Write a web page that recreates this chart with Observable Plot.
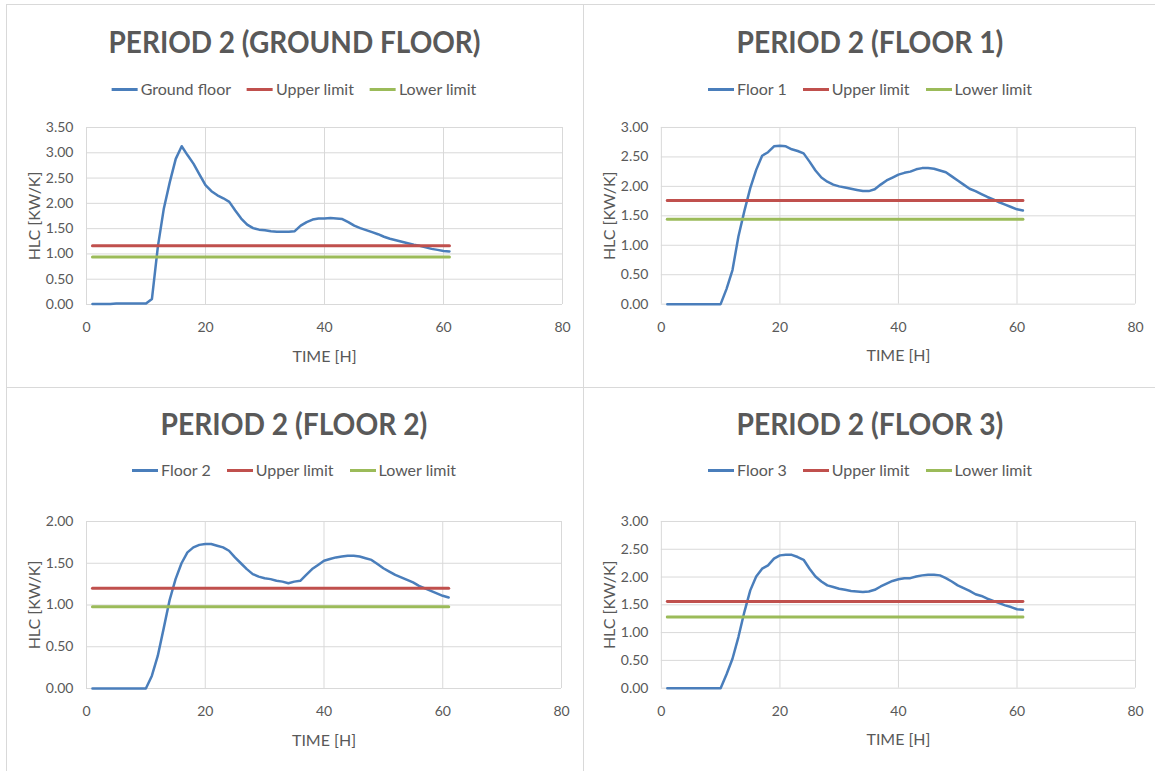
<!DOCTYPE html>
<html>
<head>
<meta charset="utf-8">
<script src="https://cdn.jsdelivr.net/npm/d3@7"></script>
<script src="https://cdn.jsdelivr.net/npm/@observablehq/plot@0.6"></script>
<style>
html, body { margin: 0; padding: 0; background: #fff; }
#root { position: relative; width: 1155px; height: 771px; overflow: hidden; font-family: Lato, "Open Sans", sans-serif; color: #595959; }
.border { position: absolute; background: #d9d9d9; }
.title { position: absolute; white-space: nowrap; font-weight: 700; font-size: 30px; line-height: 1; color: #595959; transform-origin: center center; }
.legend { position: absolute; white-space: nowrap; font-size: 16px; line-height: 1; display: flex; align-items: center; transform: translate(-50%, -50%); }
.legend .item { display: flex; align-items: center; margin: 0 8px; }
.legend .sw { width: 26px; height: 3px; margin-right: 3px; }
.chart { position: absolute; }
.chart svg { overflow: visible; }
</style>
</head>
<body>
<div id="root"></div>
<script>
// ---- data ----
const time = [1,2,3,4,5,6,7,8,9,10,11,12,13,14,15,16,17,18,19,20,21,22,23,24,25,26,27,28,29,30,31,32,33,34,35,36,37,38,39,40,41,42,43,44,45,46,47,48,49,50,51,52,53,54,55,56,57,58,59,60,61];

const groundFloor = [0.01,0.01,0.01,0.01,0.02,0.02,0.02,0.02,0.02,0.02,
  0.11,1.15,1.90,2.42,2.88,3.13,2.95,2.78,2.57,2.36,
  2.24,2.16,2.10,2.03,1.86,1.70,1.58,1.51,1.48,1.47,
  1.45,1.44,1.44,1.44,1.45,1.56,1.63,1.68,1.70,1.70,
  1.71,1.70,1.69,1.63,1.56,1.51,1.47,1.43,1.39,1.34,
  1.30,1.27,1.24,1.21,1.18,1.16,1.13,1.10,1.08,1.06,1.05];

const floor1 = [0,0,0,0,0,0,0,0,0,0,
  0.26,0.58,1.15,1.58,1.97,2.28,2.52,2.58,2.68,2.69,
  2.68,2.63,2.60,2.56,2.42,2.27,2.15,2.08,2.03,2.00,
  1.98,1.96,1.94,1.92,1.92,1.95,2.03,2.10,2.15,2.20,
  2.23,2.25,2.29,2.31,2.31,2.30,2.27,2.24,2.17,2.10,
  2.03,1.96,1.92,1.87,1.82,1.78,1.73,1.69,1.65,1.61,1.59];

const floor2 = [0,0,0,0,0,0,0,0,0,0,
  0.15,0.39,0.72,1.06,1.31,1.50,1.63,1.69,1.72,1.73,
  1.73,1.71,1.69,1.65,1.57,1.50,1.43,1.37,1.34,1.32,
  1.31,1.29,1.28,1.26,1.28,1.29,1.36,1.43,1.48,1.53,
  1.55,1.57,1.58,1.59,1.59,1.58,1.56,1.54,1.49,1.44,
  1.40,1.36,1.33,1.30,1.27,1.23,1.20,1.17,1.14,1.11,1.09];

const floor3 = [0,0,0,0,0,0,0,0,0,0,
  0.25,0.53,0.92,1.37,1.76,2.01,2.15,2.21,2.33,2.39,
  2.40,2.40,2.36,2.31,2.15,2.01,1.92,1.85,1.82,1.79,
  1.77,1.75,1.74,1.73,1.74,1.77,1.83,1.88,1.93,1.96,
  1.98,1.98,2.01,2.03,2.04,2.04,2.03,1.98,1.92,1.85,
  1.80,1.75,1.69,1.66,1.61,1.57,1.53,1.49,1.46,1.42,1.41];

const upperLimits = [1.16, 1.76, 1.20, 1.56];
const lowerLimits = [0.94, 1.44, 0.98, 1.28];
const titles = ["PERIOD 2 (GROUND FLOOR)", "PERIOD 2 (FLOOR 1)", "PERIOD 2 (FLOOR 2)", "PERIOD 2 (FLOOR 3)"];
const seriesNames = ["Ground floor", "Floor 1", "Floor 2", "Floor 3"];
const limitNames = ["Upper limit", "Lower limit"];
const xTicks = [0, 20, 40, 60, 80];
const yTicks = [
  [0, 0.5, 1, 1.5, 2, 2.5, 3, 3.5],
  [0, 0.5, 1, 1.5, 2, 2.5, 3],
  [0, 0.5, 1, 1.5, 2],
  [0, 0.5, 1, 1.5, 2, 2.5, 3]
];
const seriesValues = [groundFloor, floor1, floor2, floor3];
const xLabel = "TIME [H]";
const yLabel = "HLC [KW/K]";

// ---- layout / style ----
const colors = {series: "#4a7ebb", upper: "#c0504d", lower: "#9bbb59", grid: "#d9d9d9", text: "#595959"};
const layout = [
  {cx: 294, titleY: 41, legendY: 89, titleW: 372, px0: 86, px1: 562, py0: 127, py1: 304},
  {cx: 870, titleY: 41, legendY: 89, titleW: 267, px0: 661, px1: 1136, py0: 127, py1: 304},
  {cx: 294, titleY: 423, legendY: 470, titleW: 267, px0: 86, px1: 561, py0: 521, py1: 688},
  {cx: 870, titleY: 423, legendY: 470, titleW: 267, px0: 661, px1: 1136, py0: 521, py1: 688}
];
const mL = 80, mR = 20, mT = 15, mB = 65;
const fontFam = "Lato, 'Open Sans', sans-serif";

const root = document.getElementById("root");

// panel borders
[[6, 4, 1149, 1], [6, 4, 1, 767], [583, 4, 1, 767], [6, 387, 1149, 1]].forEach(([l, t, w, h]) => {
  const b = document.createElement("div");
  b.className = "border";
  Object.assign(b.style, {left: l + "px", top: t + "px", width: w + "px", height: h + "px"});
  root.appendChild(b);
});

layout.forEach((L, i) => {
  // title
  const t = document.createElement("div");
  t.className = "title";
  t.textContent = titles[i];
  root.appendChild(t);
  const w = t.offsetWidth, h = t.offsetHeight;
  t.style.left = (L.cx - w / 2) + "px";
  t.style.top = (L.titleY - h / 2) + "px";
  t.style.transform = `scaleX(${L.titleW / w})`;

  // legend
  const lg = document.createElement("div");
  lg.className = "legend";
  lg.style.left = L.cx + "px";
  lg.style.top = L.legendY + "px";
  [[seriesNames[i], colors.series], [limitNames[0], colors.upper], [limitNames[1], colors.lower]].forEach(([name, c]) => {
    const it = document.createElement("div");
    it.className = "item";
    const sw = document.createElement("div");
    sw.className = "sw";
    sw.style.background = c;
    const tx = document.createElement("span");
    tx.textContent = name;
    it.appendChild(sw); it.appendChild(tx);
    lg.appendChild(it);
  });
  root.appendChild(lg);

  // chart
  const rows = time.map((tt, k) => ({t: tt, v: seriesValues[i][k]}));
  const up = time.map(tt => ({t: tt, v: upperLimits[i]}));
  const lo = time.map(tt => ({t: tt, v: lowerLimits[i]}));
  const yt = yTicks[i];
  const svg = Plot.plot({
    width: (L.px1 - L.px0) + mL + mR,
    height: (L.py1 - L.py0) + mT + mB,
    marginLeft: mL, marginRight: mR, marginTop: mT, marginBottom: mB,
    style: {fontFamily: fontFam, fontSize: "14px", color: colors.text, background: "transparent"},
    x: {domain: [0, 80], ticks: xTicks},
    y: {domain: [0, yt[yt.length - 1]], ticks: yt},
    marks: [
      Plot.gridX(xTicks, {stroke: colors.grid, strokeOpacity: 1}),
      Plot.gridY(yt, {stroke: colors.grid, strokeOpacity: 1}),
      Plot.axisX(xTicks, {tickSize: 0, tickPadding: 18, label: null, fill: colors.text}),
      Plot.axisY(yt, {tickSize: 0, tickPadding: 13, tickFormat: d3.format(".2f"), label: null, fill: colors.text}),
      Plot.text([xLabel], {text: d => d, frameAnchor: "bottom", textAnchor: "middle", lineAnchor: "middle", dy: 52, fontSize: 16, fill: colors.text}),
      Plot.text([yLabel], {text: d => d, frameAnchor: "left", textAnchor: "middle", lineAnchor: "middle", dx: -52, rotate: -90, fontSize: 16, fill: colors.text}),
      Plot.line(rows, {x: "t", y: "v", stroke: colors.series, strokeWidth: 2.5}),
      Plot.line(up, {x: "t", y: "v", stroke: colors.upper, strokeWidth: 3}),
      Plot.line(lo, {x: "t", y: "v", stroke: colors.lower, strokeWidth: 3})
    ]
  });
  const wrap = document.createElement("div");
  wrap.className = "chart";
  wrap.style.left = (L.px0 - mL) + "px";
  wrap.style.top = (L.py0 - mT) + "px";
  wrap.appendChild(svg);
  root.appendChild(wrap);
});
</script>
</body>
</html>
